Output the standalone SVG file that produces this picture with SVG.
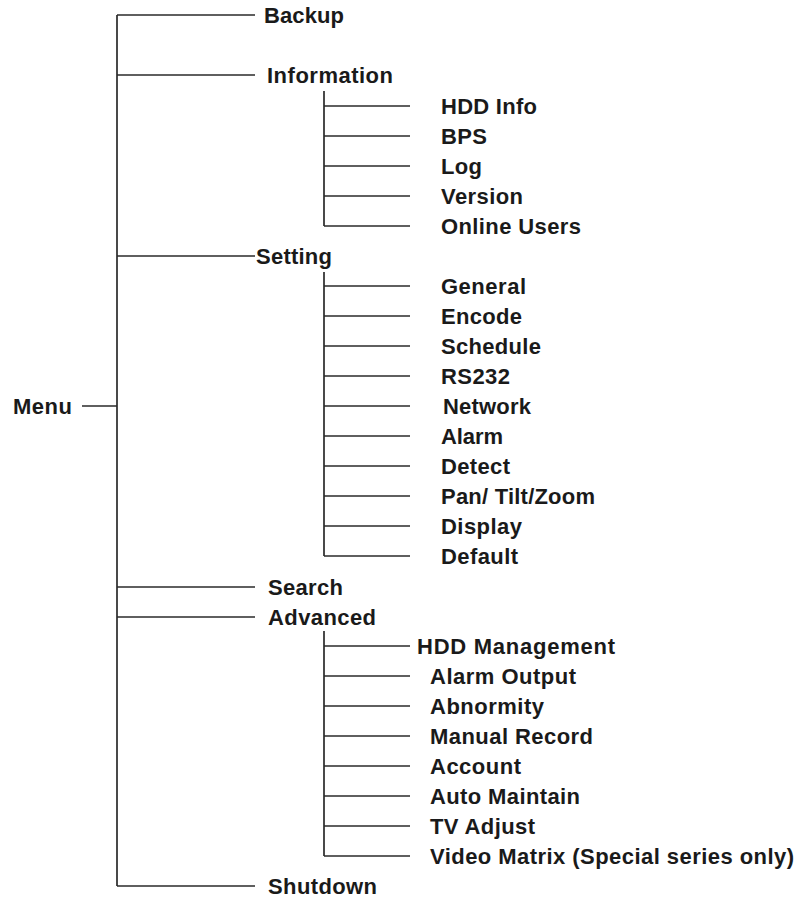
<svg xmlns="http://www.w3.org/2000/svg" width="797" height="899" viewBox="0 0 797 899">
<style>
text{font-family:"Liberation Sans",Arial,sans-serif;font-weight:bold;font-size:22px;fill:#1a1a1a}
.c line{stroke:#2a2a2a;stroke-width:1.7}
</style>
<rect width="797" height="899" fill="#fff"/>
<g class="c" id="connectors">
<line x1="82" y1="406" x2="117" y2="406"/>
<line x1="117" y1="15" x2="117" y2="886"/>
<line x1="117" y1="15" x2="255" y2="15"/>
<line x1="117" y1="75" x2="255" y2="75"/>
<line x1="117" y1="256" x2="255" y2="256"/>
<line x1="117" y1="587" x2="255" y2="587"/>
<line x1="117" y1="617" x2="255" y2="617"/>
<line x1="117" y1="886" x2="255" y2="886"/>
<line x1="324" y1="91" x2="324" y2="226"/>
<line x1="324" y1="106" x2="410" y2="106"/>
<line x1="324" y1="136" x2="410" y2="136"/>
<line x1="324" y1="166" x2="410" y2="166"/>
<line x1="324" y1="196" x2="410" y2="196"/>
<line x1="324" y1="226" x2="410" y2="226"/>
<line x1="324" y1="272" x2="324" y2="556"/>
<line x1="324" y1="286" x2="410" y2="286"/>
<line x1="324" y1="316" x2="410" y2="316"/>
<line x1="324" y1="346" x2="410" y2="346"/>
<line x1="324" y1="376" x2="410" y2="376"/>
<line x1="324" y1="406" x2="410" y2="406"/>
<line x1="324" y1="436" x2="410" y2="436"/>
<line x1="324" y1="466" x2="410" y2="466"/>
<line x1="324" y1="496" x2="410" y2="496"/>
<line x1="324" y1="526" x2="410" y2="526"/>
<line x1="324" y1="556" x2="410" y2="556"/>
<line x1="324" y1="631" x2="324" y2="856"/>
<line x1="324" y1="646" x2="410" y2="646"/>
<line x1="324" y1="676" x2="410" y2="676"/>
<line x1="324" y1="706" x2="410" y2="706"/>
<line x1="324" y1="736" x2="410" y2="736"/>
<line x1="324" y1="766" x2="410" y2="766"/>
<line x1="324" y1="796" x2="410" y2="796"/>
<line x1="324" y1="826" x2="410" y2="826"/>
<line x1="324" y1="856" x2="410" y2="856"/>
</g>
<g id="menu"><text x="13" y="414" textLength="59" lengthAdjust="spacing">Menu</text></g>
<g id="backup"><text x="264" y="23" textLength="80" lengthAdjust="spacing">Backup</text></g>
<g id="information"><text x="267" y="83" textLength="126" lengthAdjust="spacing">Information</text></g>
<g id="hdd-info"><text x="441" y="114" textLength="96" lengthAdjust="spacing">HDD Info</text></g>
<g id="bps"><text x="441" y="144" textLength="46" lengthAdjust="spacing">BPS</text></g>
<g id="log"><text x="441" y="174" textLength="41" lengthAdjust="spacing">Log</text></g>
<g id="version"><text x="441" y="204" textLength="82" lengthAdjust="spacing">Version</text></g>
<g id="online-users"><text x="441" y="234" textLength="140" lengthAdjust="spacing">Online Users</text></g>
<g id="setting"><text x="256" y="264" textLength="76" lengthAdjust="spacing">Setting</text></g>
<g id="general"><text x="441" y="294" textLength="85" lengthAdjust="spacing">General</text></g>
<g id="encode"><text x="441" y="324" textLength="81" lengthAdjust="spacing">Encode</text></g>
<g id="schedule"><text x="441" y="354" textLength="100" lengthAdjust="spacing">Schedule</text></g>
<g id="rs232"><text x="441" y="384" textLength="69" lengthAdjust="spacing">RS232</text></g>
<g id="network"><text x="443" y="414" textLength="88" lengthAdjust="spacing">Network</text></g>
<g id="alarm"><text x="441" y="444" textLength="62" lengthAdjust="spacing">Alarm</text></g>
<g id="detect"><text x="441" y="474" textLength="69" lengthAdjust="spacing">Detect</text></g>
<g id="ptz"><text x="441" y="504" textLength="154" lengthAdjust="spacing">Pan/ Tilt/Zoom</text></g>
<g id="display"><text x="441" y="534" textLength="81" lengthAdjust="spacing">Display</text></g>
<g id="default"><text x="441" y="564" textLength="77" lengthAdjust="spacing">Default</text></g>
<g id="search"><text x="268" y="595" textLength="75" lengthAdjust="spacing">Search</text></g>
<g id="advanced"><text x="268" y="625" textLength="108" lengthAdjust="spacing">Advanced</text></g>
<g id="hdd-management"><text x="417" y="654" textLength="198" lengthAdjust="spacing">HDD Management</text></g>
<g id="alarm-output"><text x="430" y="684" textLength="146" lengthAdjust="spacing">Alarm Output</text></g>
<g id="abnormity"><text x="430" y="714" textLength="114" lengthAdjust="spacing">Abnormity</text></g>
<g id="manual-record"><text x="430" y="744" textLength="163" lengthAdjust="spacing">Manual Record</text></g>
<g id="account"><text x="430" y="774" textLength="91" lengthAdjust="spacing">Account</text></g>
<g id="auto-maintain"><text x="430" y="804" textLength="150" lengthAdjust="spacing">Auto Maintain</text></g>
<g id="tv-adjust"><text x="430" y="834" textLength="105" lengthAdjust="spacing">TV Adjust</text></g>
<g id="video-matrix"><text x="430" y="864" textLength="364" lengthAdjust="spacing">Video Matrix (Special series only)</text></g>
<g id="shutdown"><text x="268" y="894" textLength="109" lengthAdjust="spacing">Shutdown</text></g>
</svg>
